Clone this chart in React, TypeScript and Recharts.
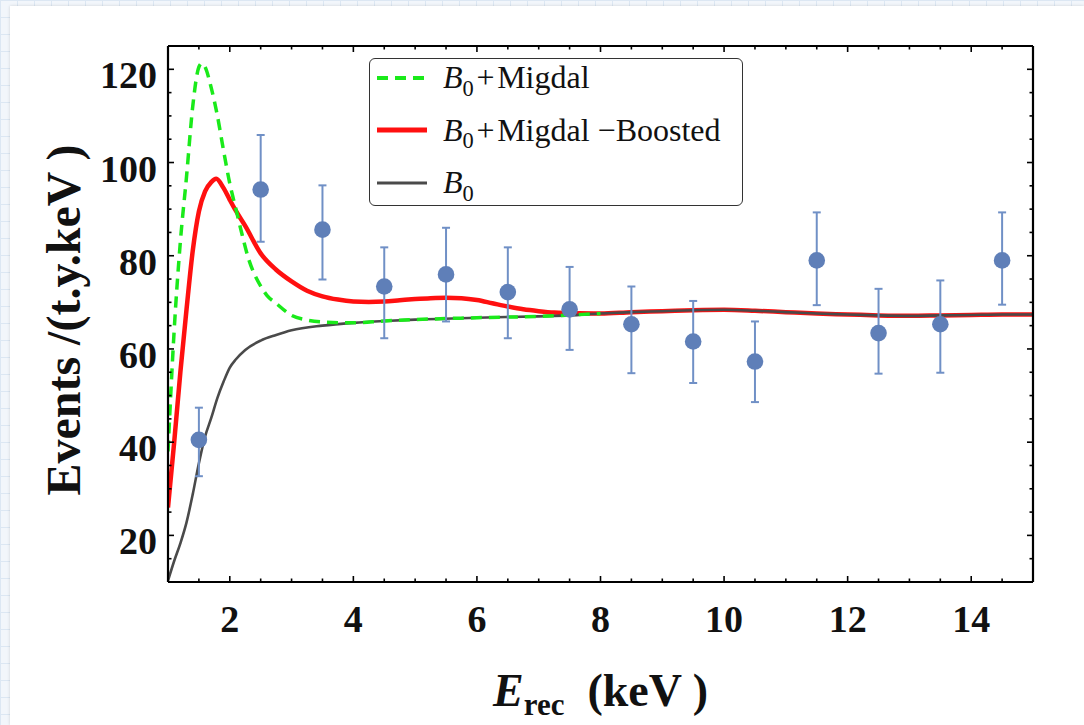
import React from 'react';
import { ComposedChart, Line, Scatter, ErrorBar, XAxis, YAxis, Legend, Label } from 'recharts';

// ---- Data ----
const migdalE = [1.0, 1.1, 1.2, 1.3, 1.4, 1.5, 1.55, 1.6, 1.7, 1.8, 1.9, 2.0, 2.1, 2.2, 2.3, 2.4, 2.5, 2.6, 2.75, 3.0, 3.25, 3.5, 4.0, 4.5, 5.0, 6.0, 7.0, 8.0];
const migdalRate = [38, 64, 83, 97, 112, 120.5, 121.3, 120.5, 116, 110, 102.5, 95.5, 90, 84.5, 79.5, 76, 73.5, 71.5, 69.8, 67.2, 66.2, 65.8, 65.6, 66, 66.3, 66.7, 67, 67.6];

const boostedE = [1.0, 1.1, 1.2, 1.3, 1.4, 1.5, 1.6, 1.7, 1.78, 1.9, 2.0, 2.1, 2.25, 2.5, 2.75, 3.0, 3.25, 3.5, 3.75, 4.0, 4.25, 4.5, 4.75, 5.0, 5.25, 5.5, 5.75, 6.0, 6.25, 6.5, 6.75, 7.0, 7.25, 7.5, 8.0, 8.5, 9.0, 9.5, 10.0, 10.5, 11.0, 11.5, 12.0, 12.5, 13.0, 13.5, 14.0, 14.5, 15.0];
const boostedRate = [26, 40, 55, 68.5, 81, 89.5, 93.8, 95.8, 96.5, 94.5, 92, 89.6, 86.4, 80.5, 77, 74.5, 72.5, 71.3, 70.6, 70.2, 70.1, 70.2, 70.45, 70.7, 70.9, 71, 70.9, 70.5, 69.8, 69.1, 68.5, 68.1, 67.8, 67.7, 67.6, 67.9, 68.1, 68.3, 68.4, 68.2, 67.9, 67.6, 67.4, 67.2, 67.1, 67.2, 67.3, 67.4, 67.4];

const bgE = [1.0, 1.1, 1.2, 1.3, 1.4, 1.5, 1.6, 1.7, 1.8, 1.9, 2.0, 2.1, 2.25, 2.5, 2.75, 3.0, 3.5, 4.0, 4.5, 5.0, 6.0, 7.0, 7.5, 8.0, 8.5, 9.0, 9.5, 10.0, 10.5, 11.0, 11.5, 12.0, 12.5, 13.0, 13.5, 14.0, 14.5, 15.0];
const bgRate = [10.3, 14.5, 18.3, 22.8, 28.8, 35.5, 41.2, 45.2, 49.5, 53, 56, 57.8, 59.8, 61.8, 63, 64, 65, 65.6, 66, 66.3, 66.7, 67, 67.2, 67.6, 67.9, 68.1, 68.3, 68.4, 68.2, 67.9, 67.6, 67.4, 67.2, 67.1, 67.2, 67.3, 67.4, 67.4];

const binCenters = [1.5, 2.5, 3.5, 4.5, 5.5, 6.5, 7.5, 8.5, 9.5, 10.5, 11.5, 12.5, 13.5, 14.5];
const measured = [40.5, 94.2, 85.6, 73.4, 76, 72.2, 68.5, 65.3, 61.6, 57.3, 79, 63.4, 65.3, 79];
const measuredHigh = [47.4, 105.9, 95.1, 81.8, 86, 81.8, 77.6, 73.4, 70.3, 65.9, 89.3, 72.9, 74.7, 89.3];
const measuredLow = [32.7, 83, 74.9, 62.3, 65.9, 62.3, 59.8, 54.8, 52.7, 48.6, 69.4, 54.7, 54.9, 69.5];

const xMajorTicks = [2, 4, 6, 8, 10, 12, 14];
const xAllTicks = [1, 1.5, 2, 2.5, 3, 3.5, 4, 4.5, 5, 5.5, 6, 6.5, 7, 7.5, 8, 8.5, 9, 9.5, 10, 10.5, 11, 11.5, 12, 12.5, 13, 13.5, 14, 14.5, 15];
const yMajorTicks = [20, 40, 60, 80, 100, 120];
const yAllTicks = [10, 15, 20, 25, 30, 35, 40, 45, 50, 55, 60, 65, 70, 75, 80, 85, 90, 95, 100, 105, 110, 115, 120, 125];

const NAME_MIGDAL = 'B0+Migdal';
const NAME_BOOSTED = 'B0+Migdal \u2212Boosted';
const NAME_BG = 'B0';
const legendOrder = [NAME_MIGDAL, NAME_BOOSTED, NAME_BG];

// ---- Styles ----
const GREEN = '#1aea1a';
const RED = '#ff1010';
const GRAY = '#4a4a4a';
const BLUE = '#5f7fb8';
const seriesStyle: Record<string, { color: string; width: number; dash?: string }> = {
  [NAME_MIGDAL]: { color: GREEN, width: 3.5, dash: '11 7' },
  [NAME_BOOSTED]: { color: RED, width: 4.5 },
  [NAME_BG]: { color: GRAY, width: 2.6 },
};
const SERIF = '"Liberation Serif", "Times New Roman", serif';

const toPoints = (xs: number[], ys: number[]) => xs.map((x, i) => ({ x, y: ys[i] }));
const migdalData = toPoints(migdalE, migdalRate);
const boostedData = toPoints(boostedE, boostedRate);
const bgData = toPoints(bgE, bgRate);
const pointData = binCenters.map((x, i) => ({
  x,
  y: measured[i],
  err: [measured[i] - measuredLow[i], measuredHigh[i] - measured[i]],
}));

const MAJOR = 6;
const MINOR = 3.5;

const makeTick = (side: 'bottom' | 'top' | 'left' | 'right') => (props: any) => {
  const { x, y, payload } = props;
  const v = payload.value;
  const isX = side === 'bottom' || side === 'top';
  const major = isX ? xMajorTicks.includes(v) : yMajorTicks.includes(v);
  const len = major ? MAJOR : MINOR;
  let line;
  if (side === 'bottom') line = <line x1={x} y1={y} x2={x} y2={y - len} stroke="#000" strokeWidth={1.6} />;
  else if (side === 'top') line = <line x1={x} y1={y} x2={x} y2={y + len} stroke="#000" strokeWidth={1.6} />;
  else if (side === 'left') line = <line x1={x} y1={y} x2={x + len} y2={y} stroke="#000" strokeWidth={1.6} />;
  else line = <line x1={x} y1={y} x2={x - len} y2={y} stroke="#000" strokeWidth={1.6} />;
  let label = null;
  if (major && side === 'bottom') {
    label = (
      <text x={x} y={y + 50} textAnchor="middle" fontFamily={SERIF} fontWeight="bold" fontSize={38} fill="#111">
        {v}
      </text>
    );
  } else if (major && side === 'left') {
    label = (
      <text x={x - 11} y={y + 19} textAnchor="end" fontFamily={SERIF} fontWeight="bold" fontSize={38} fill="#111">
        {v}
      </text>
    );
  }
  return (
    <g>
      {line}
      {label}
    </g>
  );
};

const renderName = (name: string) =>
  name.startsWith('B0') ? (
    <>
      <i>B</i>
      <span style={{ fontSize: '0.7em', position: 'relative', top: '0.35em' }}>0</span>
      {name.slice(2).replace('+', '\u200a+\u200a')}
    </>
  ) : (
    name
  );

const LegendBox = (props: any) => {
  const payload: any[] = props.payload || [];
  const ordered = legendOrder
    .map((n) => payload.find((p) => p.value === n))
    .filter(Boolean);
  return (
    <div
      style={{
        position: 'relative',
        width: 374,
        height: 148,
        border: '1.5px solid #333',
        borderRadius: 6,
        background: '#fff',
        boxSizing: 'border-box',
        fontFamily: SERIF,
        fontSize: 32,
        color: '#111',
      }}
    >
      {ordered.map((p: any, i: number) => {
        const st = seriesStyle[p.value];
        return (
          <div
            key={p.value}
            style={{
              position: 'absolute',
              left: 7,
              top: i * 52.5 - 1.5,
              height: 40,
              display: 'flex',
              alignItems: 'center',
              whiteSpace: 'nowrap',
            }}
          >
            <svg width={50} height={10} style={{ display: 'block' }}>
              <line x1={0} y1={5} x2={50} y2={5} stroke={p.color} strokeWidth={st.width + 0.5} strokeDasharray={st.dash} />
            </svg>
            <span style={{ marginLeft: 16 }}>{renderName(p.value)}</span>
          </div>
        );
      })}
    </div>
  );
};

const YTitle = (props: any) => {
  const vb = props.viewBox || { x: 88, y: 46, width: 80, height: 536 };
  const tx = vb.x - 8;
  const ty = vb.y + vb.height / 2 + 6;
  return (
    <text
      x={tx}
      y={ty}
      transform={`rotate(-90, ${tx}, ${ty})`}
      textAnchor="middle"
      fontFamily={SERIF}
      fontWeight="bold"
      fontSize={48}
      fill="#111"
    >
      Events /(t.y.keV )
    </text>
  );
};

const XTitle = (props: any) => {
  const vb = props.viewBox || { x: 168, y: 582, width: 865, height: 60 };
  const tx = vb.x + vb.width / 2;
  const ty = vb.y + 124;
  return (
    <text x={tx} y={ty} textAnchor="middle" fontFamily={SERIF} fontWeight="bold" fontSize={46} fill="#111">
      <tspan fontStyle="italic">E</tspan>
      <tspan fontSize={31} dy={9}>rec</tspan>
      <tspan dy={-9}>{'\u00a0\u00a0(keV )'}</tspan>
    </text>
  );
};

export default function App() {
  return (
    <div
      style={{
        position: 'absolute',
        left: 0,
        top: 0,
        width: 1084,
        height: 725,
        overflow: 'hidden',
        backgroundColor: '#f2f6fb',
        backgroundImage:
          'linear-gradient(#dce7f3 1px, transparent 1px), linear-gradient(90deg, #dce7f3 1px, transparent 1px)',
        backgroundSize: '17px 17px',
      }}
    >
      <div
        style={{
          position: 'absolute',
          left: 10,
          top: 6,
          right: 0,
          bottom: 0,
          background: '#fff',
          boxShadow: '0 0 3px rgba(0,0,0,0.15)',
        }}
      />
      <div style={{ position: 'absolute', left: 0, top: 0 }}>
        <ComposedChart width={1084} height={725} margin={{ top: 45, right: 50, bottom: 83, left: 88 }}>
          <XAxis
            xAxisId="b"
            dataKey="x"
            type="number"
            orientation="bottom"
            domain={[1, 15]}
            allowDataOverflow
            ticks={xAllTicks}
            interval={0}
            height={60}
            tickSize={0}
            tickMargin={0}
            tickLine={false}
            tick={makeTick('bottom')}
            axisLine={{ stroke: '#000', strokeWidth: 2.2 }}
          >
            <Label content={<XTitle />} />
          </XAxis>
          <XAxis
            xAxisId="t"
            dataKey="x"
            type="number"
            orientation="top"
            domain={[1, 15]}
            allowDataOverflow
            ticks={xAllTicks}
            interval={0}
            height={1}
            tickSize={0}
            tickMargin={0}
            tickLine={false}
            tick={makeTick('top')}
            axisLine={{ stroke: '#000', strokeWidth: 2.2 }}
          />
          <YAxis
            yAxisId="l"
            type="number"
            orientation="left"
            domain={[10, 125]}
            allowDataOverflow
            ticks={yAllTicks}
            interval={0}
            width={80}
            tickSize={0}
            tickMargin={0}
            tickLine={false}
            tick={makeTick('left')}
            axisLine={{ stroke: '#000', strokeWidth: 2.2 }}
          >
            <Label content={<YTitle />} />
          </YAxis>
          <YAxis
            yAxisId="r"
            type="number"
            orientation="right"
            domain={[10, 125]}
            allowDataOverflow
            ticks={yAllTicks}
            interval={0}
            width={1}
            tickSize={0}
            tickMargin={0}
            tickLine={false}
            tick={makeTick('right')}
            axisLine={{ stroke: '#000', strokeWidth: 2.2 }}
          />
          <Legend
            layout="vertical"
            align="center"
            verticalAlign="middle"
            content={<LegendBox />}
            wrapperStyle={{ left: 369, top: 58, width: 374, height: 148, bottom: 'auto', right: 'auto' }}
          />
          {/* invisible series that binds the top and right frame axes */}
          <Line
            xAxisId="t"
            yAxisId="r"
            data={bgData}
            dataKey="y"
            name="frame"
            legendType="none"
            stroke="none"
            dot={false}
            activeDot={false}
            isAnimationActive={false}
          />
          <Line
            xAxisId="b"
            yAxisId="l"
            data={boostedData}
            dataKey="y"
            name={NAME_BOOSTED}
            type="monotone"
            stroke={RED}
            strokeWidth={seriesStyle[NAME_BOOSTED].width}
            dot={false}
            activeDot={false}
            isAnimationActive={false}
          />
          <Line
            xAxisId="b"
            yAxisId="l"
            data={bgData}
            dataKey="y"
            name={NAME_BG}
            type="monotone"
            stroke={GRAY}
            strokeWidth={seriesStyle[NAME_BG].width}
            dot={false}
            activeDot={false}
            isAnimationActive={false}
          />
          <Line
            xAxisId="b"
            yAxisId="l"
            data={migdalData}
            dataKey="y"
            name={NAME_MIGDAL}
            type="monotone"
            stroke={GREEN}
            strokeWidth={seriesStyle[NAME_MIGDAL].width}
            strokeDasharray={seriesStyle[NAME_MIGDAL].dash}
            dot={false}
            activeDot={false}
            isAnimationActive={false}
          />
          <Scatter
            xAxisId="b"
            yAxisId="l"
            data={pointData}
            dataKey="y"
            name="data"
            legendType="none"
            fill={BLUE}
            isAnimationActive={false}
            shape={(p: any) => <circle cx={p.cx} cy={p.cy} r={8.3} fill={BLUE} />}
          >
            <ErrorBar dataKey="err" direction="y" width={4} stroke="#7090c6" strokeWidth={2} />
          </Scatter>
        </ComposedChart>
      </div>
    </div>
  );
}
